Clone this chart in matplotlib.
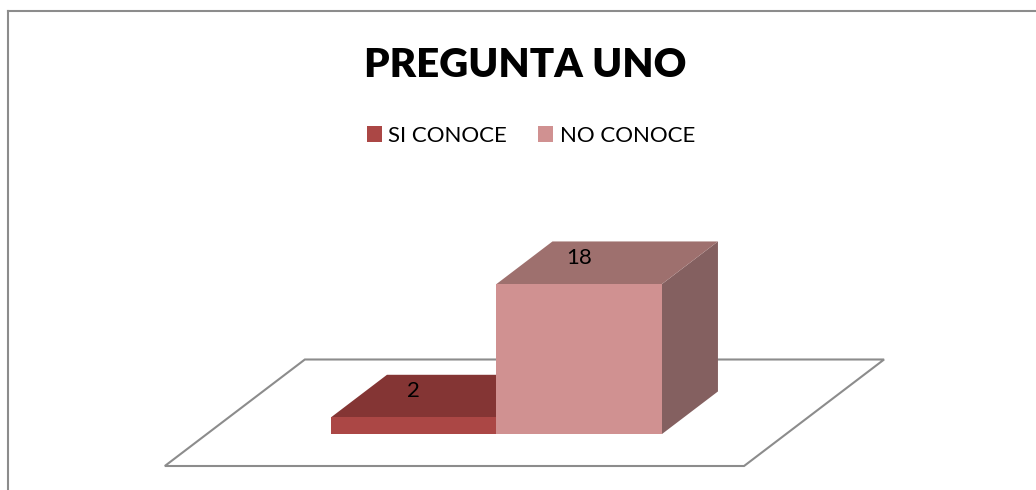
import matplotlib.pyplot as plt
from matplotlib.patches import Polygon, Patch
from matplotlib.lines import Line2D

categorias = ["SI CONOCE", "NO CONOCE"]
valores = [2, 18]
titulo = "PREGUNTA UNO"

col_frente = ["#AB4745", "#D09191"]
col_arriba = ["#843534", "#9E706E"]
col_lado = ["#6E2C2B", "#846060"]

# proyeccion oblicua: profundidad z (0 = frente del piso, 1 = fondo)
kx = 0.846   # desplazamiento horizontal por unidad de z (en anchos de barra)
ky = 12.78   # desplazamiento vertical por unidad de z (en unidades de valor)
z0, z1 = 0.3, 0.7
piso_x = 1.75


def p(x, y, z):
    return (x + kx * z, y + ky * z)


fig = plt.figure(figsize=(10.36, 4.90), dpi=100)
ax = fig.add_axes([0, 0, 1, 1])
ax.set_xlim(-2.746, 3.514)
ax.set_ylim(-2.88, 55.92)
ax.axis("off")

# piso
piso = [p(-piso_x, 0, 0), p(piso_x, 0, 0), p(piso_x, 0, 1), p(-piso_x, 0, 1)]
ax.add_patch(Polygon(piso, closed=True, facecolor="white", edgecolor="#8C8C8C", lw=1.5))

for i, (cat, v) in enumerate(zip(categorias, valores)):
    x0 = -1 + i
    x1 = x0 + 1
    frente = [p(x0, 0, z0), p(x1, 0, z0), p(x1, v, z0), p(x0, v, z0)]
    arriba = [p(x0, v, z0), p(x1, v, z0), p(x1, v, z1), p(x0, v, z1)]
    lado = [p(x1, 0, z0), p(x1, 0, z1), p(x1, v, z1), p(x1, v, z0)]
    ax.add_patch(Polygon(lado, closed=True, facecolor=col_lado[i], edgecolor="none"))
    ax.add_patch(Polygon(arriba, closed=True, facecolor=col_arriba[i], edgecolor="none"))
    ax.add_patch(Polygon(frente, closed=True, facecolor=col_frente[i], edgecolor="none"))
    cx, cy = p((x0 + x1) / 2, v, z0)
    ax.annotate(str(v), xy=(cx, cy), xytext=(0, 19), textcoords="offset points",
                ha="center", va="center", fontsize=16, family="Lato", color="black")

fig.text(0.507, 0.866, titulo, ha="center", va="center", fontsize=29,
         fontweight="heavy", family="Lato")

handles = [Patch(facecolor=c, edgecolor="none") for c in col_frente]
fig.legend(handles, categorias, loc="center", bbox_to_anchor=(0.5125, 0.723),
           ncol=2, frameon=False, prop={"family": "Lato", "size": 16},
           handlelength=0.68, handleheight=0.68, handletextpad=0.3, columnspacing=1.4)

# marco del grafico
fig.add_artist(Line2D([8 / 1036, 8 / 1036], [0, 1 - 11 / 490], transform=fig.transFigure,
                      color="#8C8C8C", lw=1.5))
fig.add_artist(Line2D([8 / 1036, 1], [1 - 11 / 490, 1 - 11 / 490], transform=fig.transFigure,
                      color="#8C8C8C", lw=1.5))

fig.savefig("out.png", dpi=100)
